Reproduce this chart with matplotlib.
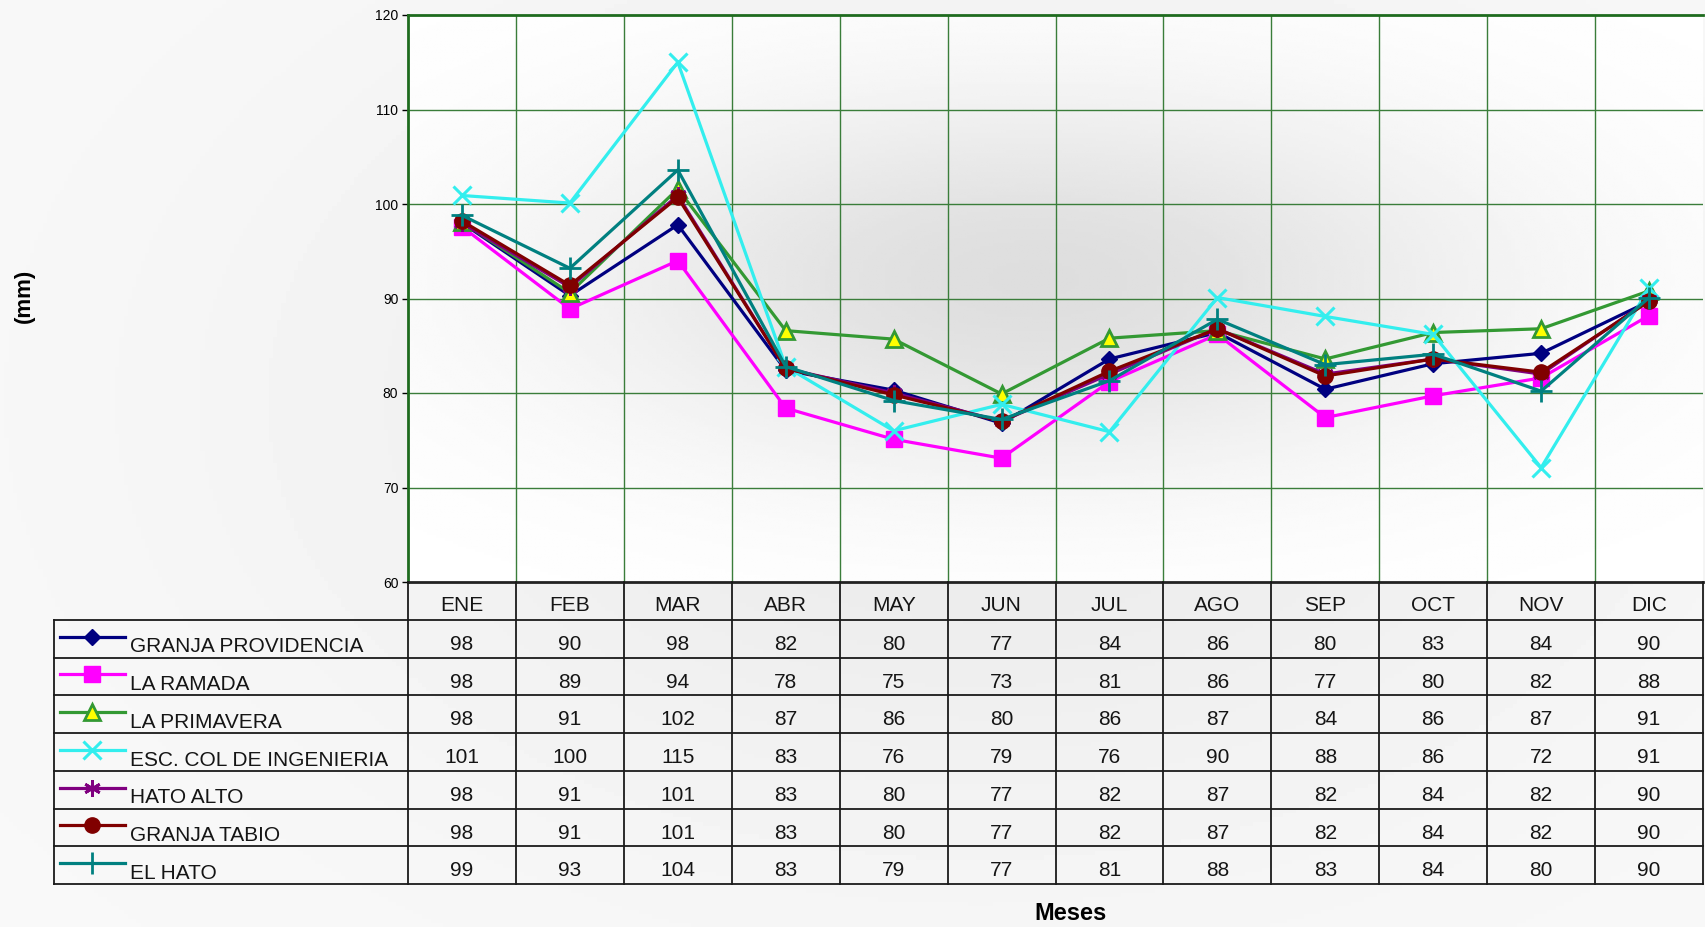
import numpy as np
import matplotlib
matplotlib.use("Agg")
import matplotlib.pyplot as plt

plt.rcParams['font.family'] = ['Liberation Sans', 'DejaVu Sans']

meses = ['ENE', 'FEB', 'MAR', 'ABR', 'MAY', 'JUN', 'JUL', 'AGO', 'SEP', 'OCT', 'NOV', 'DIC']
estaciones = ['GRANJA PROVIDENCIA', 'LA RAMADA', 'LA PRIMAVERA', 'ESC. COL DE INGENIERIA',
              'HATO ALTO', 'GRANJA TABIO', 'EL HATO']

# precipitacion media mensual (mm)
granja_providencia = [98.0, 90.3, 97.8, 82.4, 80.3, 76.8, 83.6, 86.4, 80.4, 83.1, 84.2, 89.7]
la_ramada = [97.6, 88.9, 94.0, 78.4, 75.1, 73.1, 81.2, 86.2, 77.4, 79.7, 81.6, 88.2]
la_primavera = [98.1, 90.6, 101.6, 86.6, 85.7, 79.9, 85.8, 86.6, 83.6, 86.4, 86.8, 90.8]
esc_col_ingenieria = [100.9, 100.1, 115.0, 82.8, 76.0, 78.8, 75.9, 90.1, 88.1, 86.2, 72.1, 91.1]
hato_alto = [98.0, 91.2, 100.9, 82.6, 80.0, 77.0, 82.0, 86.8, 82.0, 83.6, 82.0, 89.8]
granja_tabio = [98.2, 91.4, 100.7, 82.6, 79.8, 77.0, 82.3, 86.8, 81.8, 83.6, 82.2, 89.7]
el_hato = [98.8, 93.2, 103.6, 82.8, 79.2, 77.2, 81.3, 87.8, 83.0, 84.1, 80.2, 90.1]

series = [granja_providencia, la_ramada, la_primavera, esc_col_ingenieria,
          hato_alto, granja_tabio, el_hato]

estilos = [
    dict(color='#000080', marker='D', ms=8, mfc='#000080', mec='#000080'),
    dict(color='#ff00ff', marker='s', ms=11, mfc='#ff00ff', mec='#ff00ff'),
    dict(color='#339933', marker='^', ms=11, mfc='#ffff00', mec='#339933', mew=2),
    dict(color='#33eeee', marker='x', ms=13, mfc='#33eeee', mec='#33eeee', mew=2.2),
    dict(color='#800080', marker=(6, 2, 0), ms=12, mfc='#800080', mec='#800080', mew=2),
    dict(color='#800000', marker='o', ms=11, mfc='#800000', mec='#800000'),
    dict(color='#008080', marker='+', ms=16, mfc='#008080', mec='#008080', mew=2),
]

W, H = 1705, 927
fig = plt.figure(figsize=(W / 100, H / 100), dpi=100)
fig.patch.set_facecolor('#f5f5f5')

# fondo con degradado suave
bg = fig.add_axes([0, 0, 1, 1], zorder=-10)
gx, gy = np.meshgrid(np.linspace(0, W, 400), np.linspace(0, H, 220))
g = 0.975 - 0.06 * np.exp(-(((gx - 980) / 650) ** 2 + ((gy - 400) / 420) ** 2))
bg.imshow(g, cmap='gray', vmin=0, vmax=1, extent=[0, W, H, 0], aspect='auto')
bg.axis('off')

# grafico principal
x0, x1, ytop, ybot = 408, 1703, 15, 582
ax = fig.add_axes([x0 / W, 1 - ybot / H, (x1 - x0) / W, (ybot - ytop) / H])
ax.set_facecolor('none')
px, py = np.meshgrid(np.linspace(-0.5, 11.5, 300), np.linspace(60, 120, 200))
pg = 1.0 - 0.13 * np.exp(-(((px - 5.3) / 4.3) ** 2 + ((py - 92) / 20) ** 2))
ax.imshow(pg, cmap='gray', vmin=0, vmax=1, extent=[-0.5, 11.5, 60, 120],
          origin='lower', aspect='auto', zorder=0)

xs = np.arange(len(meses))
for vals, st in zip(series, estilos):
    ax.plot(xs, vals, lw=2.3, zorder=3, **st)

ax.set_xlim(-0.5, 11.5)
ax.set_ylim(60, 120)
ax.set_yticks(range(60, 121, 10))
ax.set_xticks([])
for v in np.arange(0.5, 11.5, 1):
    ax.axvline(v, color='#3a7d3a', lw=1.0, zorder=1)
for v in range(70, 120, 10):
    ax.axhline(v, color='#3a7d3a', lw=1.0, zorder=1)
ax.tick_params(axis='y', labelsize=10, length=4, width=1, pad=3)
ax.spines['left'].set_color('#1e6b1e')
ax.spines['left'].set_linewidth(2)
ax.spines['top'].set_color('#1e6b1e')
ax.spines['top'].set_linewidth(2)
ax.spines['right'].set_visible(False)
ax.spines['bottom'].set_color('#222222')
ax.spines['bottom'].set_linewidth(2)

# tabla de datos
t0, tb = 54, 884
unit = (x1 - x0) / 12.0
left = -0.5 - (x0 - t0) / unit
tax = fig.add_axes([t0 / W, 1 - tb / H, (x1 - t0) / W, (tb - ybot) / H])
tax.set_facecolor('none')
tax.set_xlim(left, 11.5)
tax.set_ylim(8, 0)
tax.axis('off')

lc = '#1a1a1a'
for v in np.arange(-0.5, 12.0, 1):
    tax.plot([v, v], [0, 8], color=lc, lw=1.3, clip_on=False)
tax.plot([left, left], [1, 8], color=lc, lw=1.3, clip_on=False)
for r in range(1, 9):
    tax.plot([left, 11.5], [r, r], color=lc, lw=1.3, clip_on=False)

tc = '#151515'
for j, m in enumerate(meses):
    tax.text(j, 0.62, m, ha='center', va='center', fontsize=15, color=tc)

def u(p):
    return -0.5 + (p - x0) / unit

for i, (nombre, vals, st) in enumerate(zip(estaciones, series, estilos)):
    r = i + 1
    tax.plot([u(60), u(125)], [r + 0.45, r + 0.45], lw=2.3, clip_on=False,
             **{k: v for k, v in st.items() if k != 'marker'})
    tax.plot([u(92)], [r + 0.45], ls='none', clip_on=False, **st)
    tax.text(u(130), r + 0.72, nombre, ha='left', va='center', fontsize=15, color=tc)
    for j, v in enumerate(vals):
        tax.text(j, r + 0.65, f'{round(v):d}', ha='center', va='center', fontsize=15,
                 color=tc)

fig.text(24 / W, 1 - 296 / H, '(mm)', rotation=90, ha='center', va='center',
         fontsize=16, fontweight='bold')
fig.text(1071 / W, 1 - 913 / H, 'Meses', ha='center', va='center',
         fontsize=17, fontweight='bold')

fig.savefig('out.png', dpi=100, facecolor=fig.get_facecolor())
